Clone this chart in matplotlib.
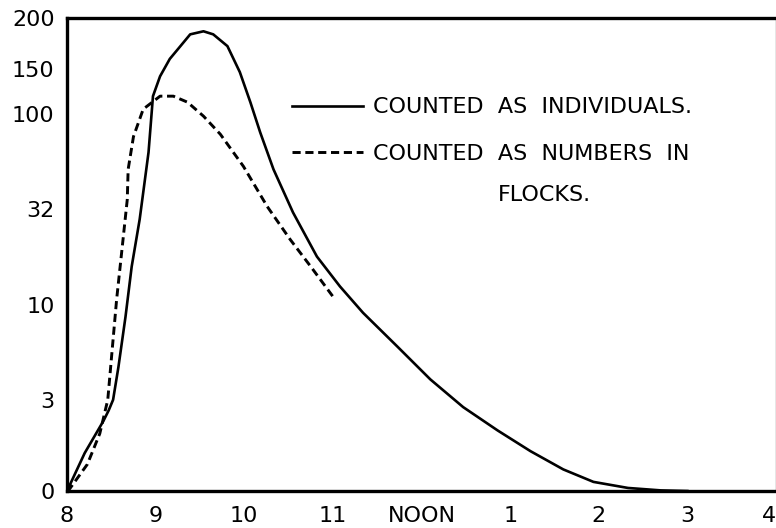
import numpy as np
import matplotlib
matplotlib.use('Agg')
import matplotlib.pyplot as plt
from matplotlib.lines import Line2D

# hours of the day (8 = 8 a.m., 12 = noon, 16 = 4 p.m.) and counts
hours_ind = [8.0, 8.2, 8.41, 8.47, 8.52, 8.58, 8.66, 8.73, 8.82, 8.92, 8.97,
             9.05, 9.16, 9.28, 9.39, 9.54, 9.65, 9.81, 9.95, 10.07, 10.18,
             10.33, 10.55, 10.82, 11.08, 11.34, 11.73, 12.10, 12.47, 12.86,
             13.23, 13.60, 13.94, 14.33, 14.70, 15.0]
count_ind = [0, 1.25, 2.3, 2.65, 3.0, 5.4, 9.1, 18.8, 29.7, 72.8, 120,
             142, 160, 172.5, 184, 187, 184, 172.5, 146.7, 113, 87,
             60.6, 31.3, 21.1, 14.2, 9.4, 6.9, 4.5, 2.76, 1.99,
             1.31, 0.71, 0.30, 0.10, 0.02, 0]

hours_flock = [8.0, 8.03, 8.23, 8.37, 8.46, 8.51, 8.56, 8.62, 8.68, 8.69, 8.75,
               8.86, 9.05, 9.20, 9.36, 9.54, 9.73, 9.99, 10.26, 10.52, 10.75,
               11.01]
count_flock = [0, 0.07, 0.88, 1.89, 3.0, 6.7, 11.2, 22.7, 39, 60.6, 84,
               105.6, 120, 120, 113.3, 98.6, 85.7, 62.8, 34, 25, 18.8,
               11.6]

y_ticks = [0, 3, 10, 32, 100, 150, 200]
x_ticks = [8, 9, 10, 11, 12, 13, 14, 15, 16]
x_labels = ['8', '9', '10', '11', 'NOON', '1', '2', '3', '4']

# the hand-drawn axis: ticks spaced evenly-ish, not on a true scale
y_tick_pos = [0, 91, 186, 281, 376, 421, 472]


def fwd(v):
    return np.interp(v, y_ticks, y_tick_pos)


def inv(p):
    return np.interp(p, y_tick_pos, y_ticks)


plt.rcParams['font.family'] = ['DejaVu Sans']

fig = plt.figure(figsize=(7.76, 5.28), dpi=100)
ax = fig.add_axes([67 / 776, 37 / 528, 709 / 776, 473 / 528])

ax.plot(hours_ind, count_ind, color='black', lw=1.9, solid_joinstyle='round')
ax.plot(hours_flock, count_flock, color='black', lw=2.1, dashes=(2.8, 1.6))

ax.set_yscale('function', functions=(fwd, inv))
ax.set_ylim(0, 200)
ax.set_xlim(8, 16)

ax.set_yticks(y_ticks)
ax.set_yticklabels([str(t) for t in y_ticks])
ax.set_xticks(x_ticks)
ax.set_xticklabels(x_labels)
ax.get_xticklabels()[-1].set_horizontalalignment('right')
ax.minorticks_off()
ax.tick_params(axis='both', length=0, labelsize=16)
ax.tick_params(axis='y', pad=9)
ax.tick_params(axis='x', pad=11)

for side in ['left', 'bottom', 'top']:
    ax.spines[side].set_linewidth(2.4)
ax.spines['right'].set_linewidth(1.0)
ax.spines['right'].set_color('0.5')

handles = [Line2D([], [], color='black', lw=1.9),
           Line2D([], [], color='black', lw=2.1, dashes=(2.8, 1.6))]
labels = ['COUNTED  AS  INDIVIDUALS.', 'COUNTED  AS  NUMBERS  IN']
ax.legend(handles, labels, loc='upper left', bbox_to_anchor=(0.317, 0.832),
          frameon=False, fontsize=16, handlelength=3.2, handletextpad=0.45,
          borderpad=0, borderaxespad=0, labelspacing=1.2)
ax.text(0.673, 0.626, 'FLOCKS.', transform=ax.transAxes, ha='center',
        va='center', fontsize=16)

fig.savefig('out.png', dpi=100)
